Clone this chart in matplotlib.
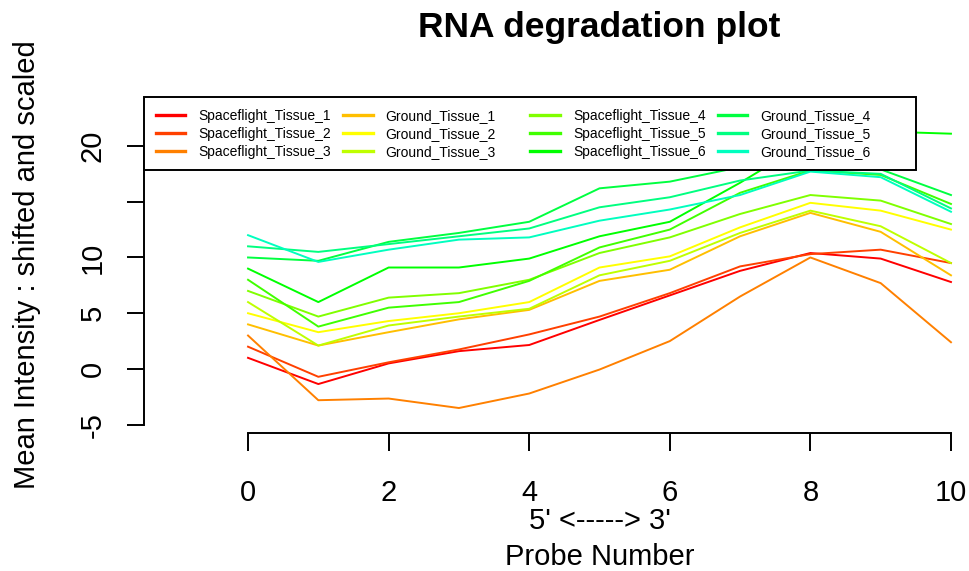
import matplotlib.pyplot as plt

plt.rcParams['font.family'] = ['Liberation Sans', 'DejaVu Sans']

# probe position along the transcript, 5' -> 3'
probe_number = list(range(11))

# mean intensity (shifted and scaled) for each array
spaceflight_1 = [1, -1.35, 0.5, 1.6, 2.15, 4.4, 6.6, 8.8, 10.4, 9.9, 7.8]
spaceflight_2 = [2, -0.7, 0.6, 1.75, 3.1, 4.7, 6.8, 9.2, 10.3, 10.7, 9.5]
spaceflight_3 = [3, -2.8, -2.65, -3.5, -2.2, -0.05, 2.5, 6.5, 10.0, 7.7, 2.4]
ground_1 = [4, 2.1, 3.3, 4.45, 5.3, 7.9, 8.9, 11.9, 14.0, 12.3, 8.4]
ground_2 = [5, 3.3, 4.3, 5.0, 6.0, 9.1, 10.1, 12.7, 14.9, 14.2, 12.5]
ground_3 = [6, 2.1, 3.9, 4.7, 5.4, 8.4, 9.7, 12.2, 14.2, 12.8, 9.5]
spaceflight_4 = [7, 4.7, 6.4, 6.8, 8.0, 10.4, 11.8, 13.9, 15.6, 15.1, 13.0]
spaceflight_5 = [8, 3.8, 5.5, 6.0, 7.9, 10.9, 12.5, 15.8, 17.8, 17.4, 14.8]
spaceflight_6 = [9, 6.0, 9.1, 9.1, 9.9, 11.9, 13.2, 16.7, 20.5, 21.3, 21.1]
ground_4 = [10, 9.7, 11.4, 12.2, 13.2, 16.2, 16.8, 18.1, 18.4, 17.9, 15.6]
ground_5 = [11, 10.5, 11.2, 11.9, 12.6, 14.5, 15.4, 16.9, 17.8, 17.5, 14.4]
ground_6 = [12, 9.6, 10.7, 11.6, 11.8, 13.3, 14.3, 15.6, 17.7, 17.2, 14.1]

sample_names = ['Spaceflight_Tissue_1', 'Spaceflight_Tissue_2', 'Spaceflight_Tissue_3',
                'Ground_Tissue_1', 'Ground_Tissue_2', 'Ground_Tissue_3',
                'Spaceflight_Tissue_4', 'Spaceflight_Tissue_5', 'Spaceflight_Tissue_6',
                'Ground_Tissue_4', 'Ground_Tissue_5', 'Ground_Tissue_6']
sample_values = [spaceflight_1, spaceflight_2, spaceflight_3,
                 ground_1, ground_2, ground_3,
                 spaceflight_4, spaceflight_5, spaceflight_6,
                 ground_4, ground_5, ground_6]

# rainbow palette, one colour per array
line_colors = ['#FF0000', '#FF4000', '#FF8000', '#FFBF00', '#FFFF00', '#BFFF00',
               '#80FF00', '#40FF00', '#00FF00', '#00FF40', '#00FF80', '#00FFBF']

x_ticks = [0, 2, 4, 6, 8, 10]
y_ticks = [-5, 0, 5, 10, 15, 20]
y_tick_labels = ['-5', '0', '5', '10', '', '20']

W, H = 969, 571
fig = plt.figure(figsize=(W / 100, H / 100), dpi=100)

# plot region in pixels (R style, runs past the right edge of the image)
left, right, top, bottom = 144, 1055, 97, 433
ax = fig.add_axes([left / W, 1 - bottom / H, (right - left) / W, (bottom - top) / H])

for name, vals, col in zip(sample_names, sample_values, line_colors):
    ax.plot(probe_number, vals, color=col, lw=1.4, label=name)

ax.set_xlim(-1.48, 11.48)
ax.set_ylim(-5.74, 24.39)

ax.spines['top'].set_visible(False)
ax.spines['right'].set_visible(False)
ax.spines['left'].set_bounds(-5, 20)
ax.spines['bottom'].set_bounds(0, 10)
ax.spines['left'].set_linewidth(1.4)
ax.spines['bottom'].set_linewidth(1.4)

ax.set_xticks(x_ticks)
ax.set_yticks(y_ticks)
ax.set_yticklabels(y_tick_labels, rotation=90, va='center')
ax.tick_params(axis='both', length=12.6, width=1.4, labelsize=21)
ax.tick_params(axis='x', pad=20.5)
ax.tick_params(axis='y', pad=14.4)

# title and axis labels
cx = (left + right) / 2 / W
fig.text(cx, 1 - 27 / H, 'RNA degradation plot', ha='center', va='center',
         fontsize=25.5, fontweight='bold')
fig.text(cx, 1 - 521 / H, "5' <-----> 3'", ha='center', va='center', fontsize=21)
fig.text(cx, 1 - 557 / H, 'Probe Number', ha='center', va='center', fontsize=21)
fig.text(27 / W, 1 - 265 / H, 'Mean Intensity : shifted and scaled', rotation=90,
         ha='center', va='center', fontsize=21)

leg = ax.legend(ncol=4, loc='upper left', bbox_to_anchor=(0, 1), borderaxespad=0,
                fontsize=10, fancybox=False, framealpha=1, edgecolor='black',
                handlelength=2.15, handletextpad=0.93, labelspacing=0.3,
                borderpad=0.83, columnspacing=0.85)
leg.get_frame().set_linewidth(1.4)
for h in leg.get_lines():
    h.set_linewidth(2.4)
# equal width columns like R's legend
leg._legend_handle_box.mode = 'equal'

fig.savefig('out.png', dpi=100)
